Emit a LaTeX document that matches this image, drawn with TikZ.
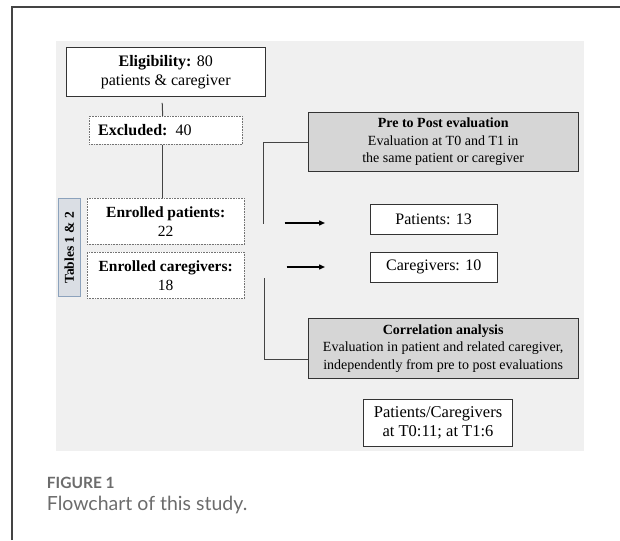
\documentclass[tikz,border=0pt]{standalone}
\usepackage{fontspec}
\setmainfont{Liberation Serif}
\newfontfamily\capfont{Lato}
\usepackage{tikz}
\usetikzlibrary{arrows.meta, positioning}
\definecolor{framegray}{RGB}{68,68,68}
\definecolor{bggray}{RGB}{240,240,240}
\definecolor{boxgray}{RGB}{214,214,214}
\definecolor{tabfill}{RGB}{218,222,228}
\definecolor{tabline}{RGB}{140,162,188}
\definecolor{captiongray}{RGB}{108,108,108}
\tikzset{
  startbox/.style={
    rectangle, draw=black!80, fill=white, line width=0.9pt, align=center,
    font=\fontsize{16}{19.5}\selectfont
  },
  dotbox/.style={
    rectangle, draw=black!55, densely dotted, fill=white, line width=0.6pt,
    font=\fontsize{15.5}{19}\selectfont
  },
  graybox/.style={
    rectangle, draw=black!80, fill=boxgray, line width=0.9pt, align=center,
    minimum width=269.6pt, font=\fontsize{14}{17.5}\selectfont
  },
  countbox/.style={
    rectangle, draw=black!80, fill=white, line width=0.9pt, align=center,
    minimum width=126.5pt, minimum height=30pt, font=\fontsize{16}{19}\selectfont
  },
  sidetab/.style={
    rectangle, draw=tabline, fill=tabfill, line width=0.9pt, rotate=90,
    minimum width=98pt, minimum height=22.2pt, inner sep=0pt,
    font=\fontsize{13.5}{16}\selectfont\bfseries
  },
  link/.style={line width=1pt, color=framegray},
  arrow/.style={-{Triangle[length=6pt,width=5pt]}, line width=1.4pt, color=black}
}

\begin{document}
\begin{tikzpicture}[x=1pt,y=-1pt]
  \useasboundingbox (0,0) rectangle (620,540);
  % page frame and grey panel
  \draw[line width=1.3pt, color=framegray] (12,540) -- (12,7) -- (620,7);
  \fill[bggray] (56,40.6) rectangle (583.6,451);

  % left column
  \node[startbox, minimum width=198.6pt, minimum height=49pt] (elig) at (165.7,72)
    {\textbf{Eligibility:} 80\\patients \& caregiver};
  \node[dotbox, below=19pt of elig, minimum width=153pt, minimum height=28.2pt,
    text width=135pt, inner xsep=9pt, align=left,
    font=\fontsize{16}{19.5}\selectfont] (excl) {\textbf{Excluded:} 40};
  \node[dotbox, below=53.4pt of excl, minimum width=157.4pt, minimum height=46pt,
    align=center] (enp) {\textbf{Enrolled patients:}\\22};
  \node[dotbox, below=7.4pt of enp, minimum width=157.4pt, minimum height=46.2pt,
    align=center] (enc) {\textbf{Enrolled caregivers:}\\18};
  \node[sidetab] (tabs) at (69.2,247.6) {Tables 1 \& 2};

  \draw[link] ([yshift=-6pt, xshift=-3.5pt]elig.south) -- ([xshift=-3pt]excl.north);
  \draw[link] ([xshift=-3pt]excl.south) -- ([xshift=-3pt]excl.south |- enp.north);

  % right column
  \node[graybox, minimum height=59.6pt] (pre) at (443.2,142.1)
    {\textbf{Pre to Post evaluation}\\Evaluation at T0 and T1 in\\the same patient or caregiver};
  \node[countbox, below=32pt of pre, xshift=-9.5pt] (patn) {Patients: 13};
  \node[countbox, below=16.4pt of patn] (cgn) {Caregivers: 10};
  \node[graybox, minimum height=60.5pt] (corr) at (443.2,348.2)
    {\textbf{Correlation analysis}\\Evaluation in patient and related caregiver,\\independently from pre to post evaluations};
  \node[startbox, below=20.3pt of corr, xshift=-5.2pt, minimum width=149pt,
    minimum height=47.2pt, font=\fontsize{16.5}{19}\selectfont] (pc)
    {Patients/Caregivers\\at T0:11; at T1:6};

  \coordinate (brtop) at (263.7,224);
  \coordinate (brbot) at (264.5,278);
  \draw[link] (pre.west) -| (brtop);
  \draw[link] (brbot) |- ([yshift=-10.8pt]corr.west);

  \coordinate (a1s) at (284.7,223);
  \coordinate (a1e) at (325,223);
  \coordinate (a2s) at (286.7,267);
  \coordinate (a2e) at (325,267);
  \draw[arrow] (a1s) -- (a1e);
  \draw[arrow] (a2s) -- (a2e);

  % caption
  \node[anchor=west, inner sep=0pt, text=captiongray,
    font=\capfont\fontsize{15.5}{18}\selectfont\bfseries] (fig) at (46.7,483) {FIGURE 1};
  \node[anchor=west, inner sep=0pt, text=captiongray,
    font=\capfont\fontsize{19.5}{23}\selectfont] (cap) at (46.7,505) {Flowchart of this study.};
\end{tikzpicture}
\end{document}
